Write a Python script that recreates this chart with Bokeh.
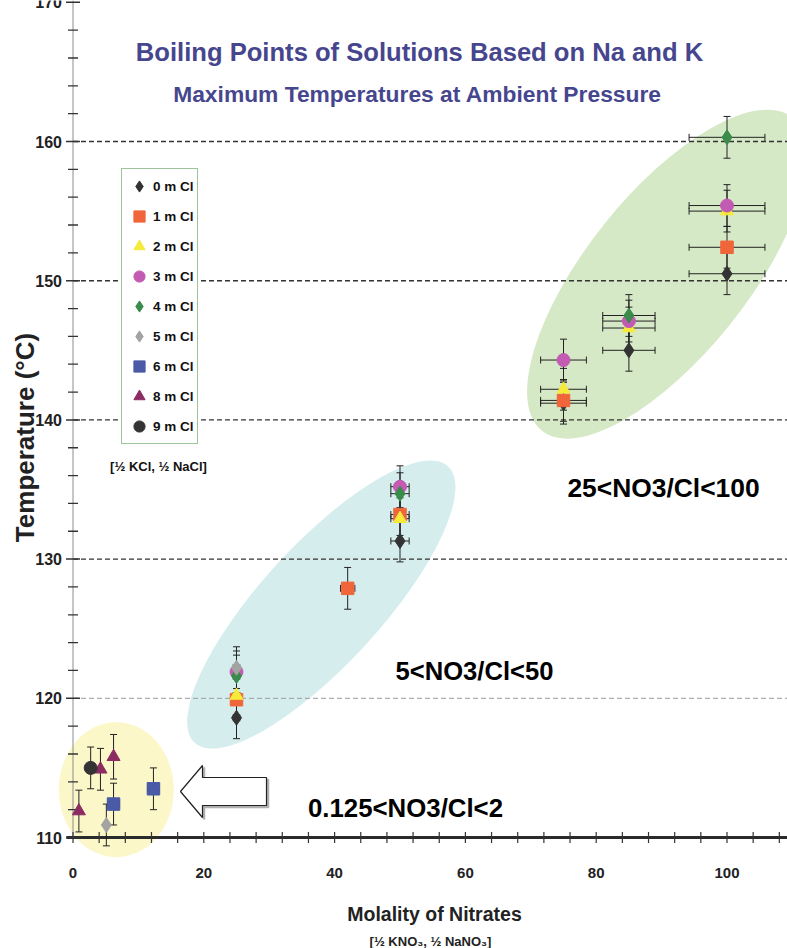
import math
from bokeh.plotting import figure
from bokeh.models import (ColumnDataSource, Range1d, Whisker, TeeHead, Legend,
                          LegendItem, Label)
from bokeh.core.properties import value
from bokeh.embed import file_html
from bokeh.resources import INLINE

# ---------------- texts ----------------
title_text = "Boiling Points of Solutions Based on Na and K"
subtitle_text = "Maximum Temperatures at Ambient Pressure"
x_title = "Molality of Nitrates"
x_subtitle = "[½ KNO₃, ½ NaNO₃]"
y_title = "Temperature (°C)"
legend_note = "[½ KCl, ½ NaCl]"
region_labels = ["25<NO3/Cl<100", "5<NO3/Cl<50", "0.125<NO3/Cl<2"]

# ---------------- axes ----------------
x_tick_values = [0, 20, 40, 60, 80, 100]
x_tick_labels = ["0", "20", "40", "60", "80", "100"]
y_tick_values = [110, 120, 130, 140, 150, 160, 170]
y_tick_labels = ["110", "120", "130", "140", "150", "160", "170"]
grid_values = [120, 130, 140, 150, 160]

# ---------------- data (molality of nitrates, boiling temperature) ----------------
series_labels = ["0 m Cl", "1 m Cl", "2 m Cl", "3 m Cl", "4 m Cl",
                 "5 m Cl", "6 m Cl", "8 m Cl", "9 m Cl"]

cl0_molality = [25, 50, 75, 85, 100]
cl0_temp = [118.6, 131.3, 141.2, 145.0, 150.5]
cl0_temp_err = [1.5, 1.5, 1.5, 1.5, 1.5]
cl0_molality_err = [0.5, 1.4, 3.5, 4.0, 5.8]

cl1_molality = [25, 42, 50, 75, 100]
cl1_temp = [119.9, 127.9, 133.2, 141.4, 152.4]
cl1_temp_err = [1.5, 1.5, 1.5, 1.5, 1.5]
cl1_molality_err = [0.5, 1.1, 1.4, 3.5, 5.8]

cl2_molality = [25, 50, 75, 85, 100]
cl2_temp = [120.2, 132.9, 142.2, 146.6, 155.0]
cl2_temp_err = [1.5, 1.5, 1.5, 1.5, 1.5]
cl2_molality_err = [0.5, 1.4, 3.5, 4.0, 5.8]

cl3_molality = [25, 50, 75, 85, 100]
cl3_temp = [121.9, 135.2, 144.3, 147.1, 155.4]
cl3_temp_err = [1.5, 1.5, 1.5, 1.5, 1.5]
cl3_molality_err = [0.5, 1.4, 3.5, 4.0, 5.8]

cl4_molality = [25, 50, 85, 100]
cl4_temp = [121.6, 134.7, 147.5, 160.3]
cl4_temp_err = [1.5, 1.5, 1.5, 1.5]
cl4_molality_err = [0.5, 1.4, 4.0, 5.8]

cl5_molality = [5.1, 25]
cl5_temp = [110.9, 122.2]
cl5_temp_err = [1.5, 1.5]
cl5_molality_err = [0.0, 0.5]

cl6_molality = [6.2, 12.3]
cl6_temp = [112.4, 113.5]
cl6_temp_err = [1.5, 1.5]
cl6_molality_err = [0.9, 0.9]

cl8_molality = [0.9, 4.2, 6.2]
cl8_temp = [111.9, 114.9, 115.8]
cl8_temp_err = [1.5, 1.5, 1.6]
cl8_molality_err = [0.0, 0.0, 0.0]

cl9_molality = [2.7]
cl9_temp = [115.0]
cl9_temp_err = [1.5]
cl9_molality_err = [0.0]

series = [
    (cl0_molality, cl0_temp, cl0_temp_err, cl0_molality_err),
    (cl1_molality, cl1_temp, cl1_temp_err, cl1_molality_err),
    (cl2_molality, cl2_temp, cl2_temp_err, cl2_molality_err),
    (cl3_molality, cl3_temp, cl3_temp_err, cl3_molality_err),
    (cl4_molality, cl4_temp, cl4_temp_err, cl4_molality_err),
    (cl5_molality, cl5_temp, cl5_temp_err, cl5_molality_err),
    (cl6_molality, cl6_temp, cl6_temp_err, cl6_molality_err),
    (cl8_molality, cl8_temp, cl8_temp_err, cl8_molality_err),
    (cl9_molality, cl9_temp, cl9_temp_err, cl9_molality_err),
]

# ---------------- styles ----------------
marker_styles = [
    ("diamond", 15, "#333333"),
    ("square", 12.5, "#f0663a"),
    ("triangle", 13, "#f6ea3a"),
    ("circle", 13, "#c35bb2"),
    ("diamond", 15, "#3b8b4d"),
    ("diamond", 15, "#a3a3a3"),
    ("square", 12.5, "#4a5aa6"),
    ("triangle", 13, "#8c2c62"),
    ("circle", 13, "#333333"),
]
SANS = "Liberation Sans"
TITLE_COLOR = "#46468e"

# ---------------- layout (pixel geometry of the picture) ----------------
W, H = 787, 948
PX_ORIGIN_X = 72.5      # screen x of molality 0
PX_PER_MOL = 6.54
PY_110 = 837.0          # screen y of 110 degC
PX_PER_DEG = 13.92
X0 = -PX_ORIGIN_X / PX_PER_MOL
X1 = X0 + W / PX_PER_MOL
Y1 = 110 + PY_110 / PX_PER_DEG
Y0 = Y1 - H / PX_PER_DEG


def dx(px):
    return X0 + px / PX_PER_MOL


def dy(py):
    return Y1 - py / PX_PER_DEG


p = figure(width=W, height=H, x_range=Range1d(X0, X1), y_range=Range1d(Y0, Y1),
           x_axis_location=None, y_axis_location=None, toolbar_location=None,
           output_backend="svg", min_border=0)
p.grid.visible = False
p.outline_line_color = None
p.background_fill_color = "white"
p.border_fill_color = "white"

# shaded regions (screen geometry)
ell_cx = [115.8, 320.8, 666.7]
ell_cy = [789.2, 604.0, 273.7]
ell_w = [115, 375, 401]
ell_h = [135, 120, 161]
ell_ang = [0, 47.5, 51.35]
ell_col = ["#fbf7c8", "#d6eded", "#d6e9c6"]
p.ellipse(x=[dx(v) for v in ell_cx], y=[dy(v) for v in ell_cy],
          width=ell_w, height=ell_h, width_units="screen", height_units="screen",
          angle=ell_ang, angle_units="deg", fill_color=ell_col, line_color=None,
          level="underlay")

# dashed grid lines
p.segment(x0=[0] * len(grid_values), y0=grid_values,
          x1=[X1] * len(grid_values), y1=grid_values,
          line_color=["#9a9a9a" if g == 120 else "#333333" for g in grid_values],
          line_width=[1.0 if g == 120 else 1.4 for g in grid_values],
          line_dash="5 3", level="underlay")

# axis lines
p.segment(x0=[0], y0=[110], x1=[0], y1=[Y1], line_color="#8c8c8c", line_width=1,
          level="underlay")
p.segment(x0=[dx(66)], y0=[110], x1=[X1], y1=[110], line_color="#2b2b2b",
          line_width=3, level="underlay")

# tick marks
y_minor = [v for v in range(112, 171, 2) if v not in y_tick_values]
p.scatter(x=[0] * len(y_minor), y=y_minor, marker="dash", size=10,
          line_color="#333333", line_width=1.3)
p.scatter(x=[0] * len(y_tick_values), y=y_tick_values, marker="dash", size=14,
          line_color="#333333", line_width=1.5)
x_minor = list(range(0, 109, 4))
p.scatter(x=x_minor, y=[110] * len(x_minor), marker="dash", size=11,
          angle=math.pi / 2, line_color="#333333", line_width=1.2)

# tick labels
p.text(x=[0] * len(y_tick_values), y=y_tick_values, text=y_tick_labels, x_offset=-11,
       text_align="right", text_baseline="middle", text_font=value(SANS),
       text_font_style="bold", text_font_size="16px", text_color="#222222")
p.text(x=x_tick_values, y=[110] * len(x_tick_values), text=x_tick_labels, y_offset=35,
       text_align="center", text_baseline="middle", text_font=value(SANS),
       text_font_style="bold", text_font_size="15px", text_color="#222222")

# error bars + markers
renderers = []
for (mx, ty, terr, merr), (mk, sz, col) in zip(series, marker_styles):
    src = ColumnDataSource(dict(x=mx, y=ty,
                                ylo=[t - e for t, e in zip(ty, terr)],
                                yhi=[t + e for t, e in zip(ty, terr)]))
    p.add_layout(Whisker(source=src, base="x", lower="ylo", upper="yhi",
                         dimension="height", line_color="#222222", line_width=1,
                         upper_head=TeeHead(size=7, line_color="#222222", line_width=1),
                         lower_head=TeeHead(size=7, line_color="#222222", line_width=1),
                         level="underlay"))
    hx = [(m, t, e) for m, t, e in zip(mx, ty, merr) if e > 0]
    if hx:
        hsrc = ColumnDataSource(dict(y=[h[1] for h in hx],
                                     xlo=[h[0] - h[2] for h in hx],
                                     xhi=[h[0] + h[2] for h in hx]))
        p.add_layout(Whisker(source=hsrc, base="y", lower="xlo", upper="xhi",
                             dimension="width", line_color="#222222", line_width=1,
                             upper_head=TeeHead(size=7, line_color="#222222", line_width=1),
                             lower_head=TeeHead(size=7, line_color="#222222", line_width=1),
                             level="underlay"))
    r = p.scatter(x="x", y="y", source=src, marker=mk, size=sz, fill_color=col,
                  line_color=col, line_width=1)
    renderers.append(r)

legend = Legend(items=[LegendItem(label=lab, renderers=[r])
                       for lab, r in zip(series_labels, renderers)],
                location=(121, H - 444), orientation="vertical",
                glyph_width=28, glyph_height=28, label_standoff=0,
                label_height=20, spacing=2, padding=3, margin=0,
                border_line_color="#3b8b3b", border_line_width=1.2,
                background_fill_color="white", background_fill_alpha=1.0,
                label_text_font=SANS, label_text_font_style="bold",
                label_text_font_size="13.5px", label_text_color="#111111")
p.add_layout(legend)

# hollow arrow pointing at the low-nitrate group (screen geometry)
arrow_px = [(180, 791), (202, 765), (202, 777), (266, 777),
            (266, 805), (202, 805), (202, 817)]
p.patch(x=[dx(a + 2) for a, b in arrow_px], y=[dy(b + 2) for a, b in arrow_px],
        fill_color="#b0b0b0", line_color="#b0b0b0", line_width=1.5)
p.patch(x=[dx(a) for a, b in arrow_px], y=[dy(b) for a, b in arrow_px],
        fill_color="white", line_color="#222222", line_width=1.2)


def label(text, px, py, size, color="#111111", font=SANS, align="center",
          baseline="alphabetic", angle=0.0, style="bold"):
    p.add_layout(Label(x=px, y=H - py, x_units="screen", y_units="screen",
                       text=text, text_font=font, text_font_style=style,
                       text_font_size=size, text_color=color, text_align=align,
                       text_baseline=baseline, angle=angle))


label(title_text, 419, 51, "25.6px", TITLE_COLOR)
label(subtitle_text, 417, 93, "22.8px", TITLE_COLOR)
label(y_title, 24, 437, "26px", "#222222", baseline="middle", angle=math.pi / 2)
label(x_title, 434, 913, "19.5px", "#222222")
label(x_subtitle, 430, 941, "13px", "#222222")
label(legend_note, 158, 466, "13px", "#111111")
label(region_labels[0], 663, 487, "26.4px", "#000000")
label(region_labels[1], 474, 670, "25.6px", "#000000")
label(region_labels[2], 405, 807, "25.8px", "#000000")

open("out.html", "w").write(file_html(p, INLINE))
